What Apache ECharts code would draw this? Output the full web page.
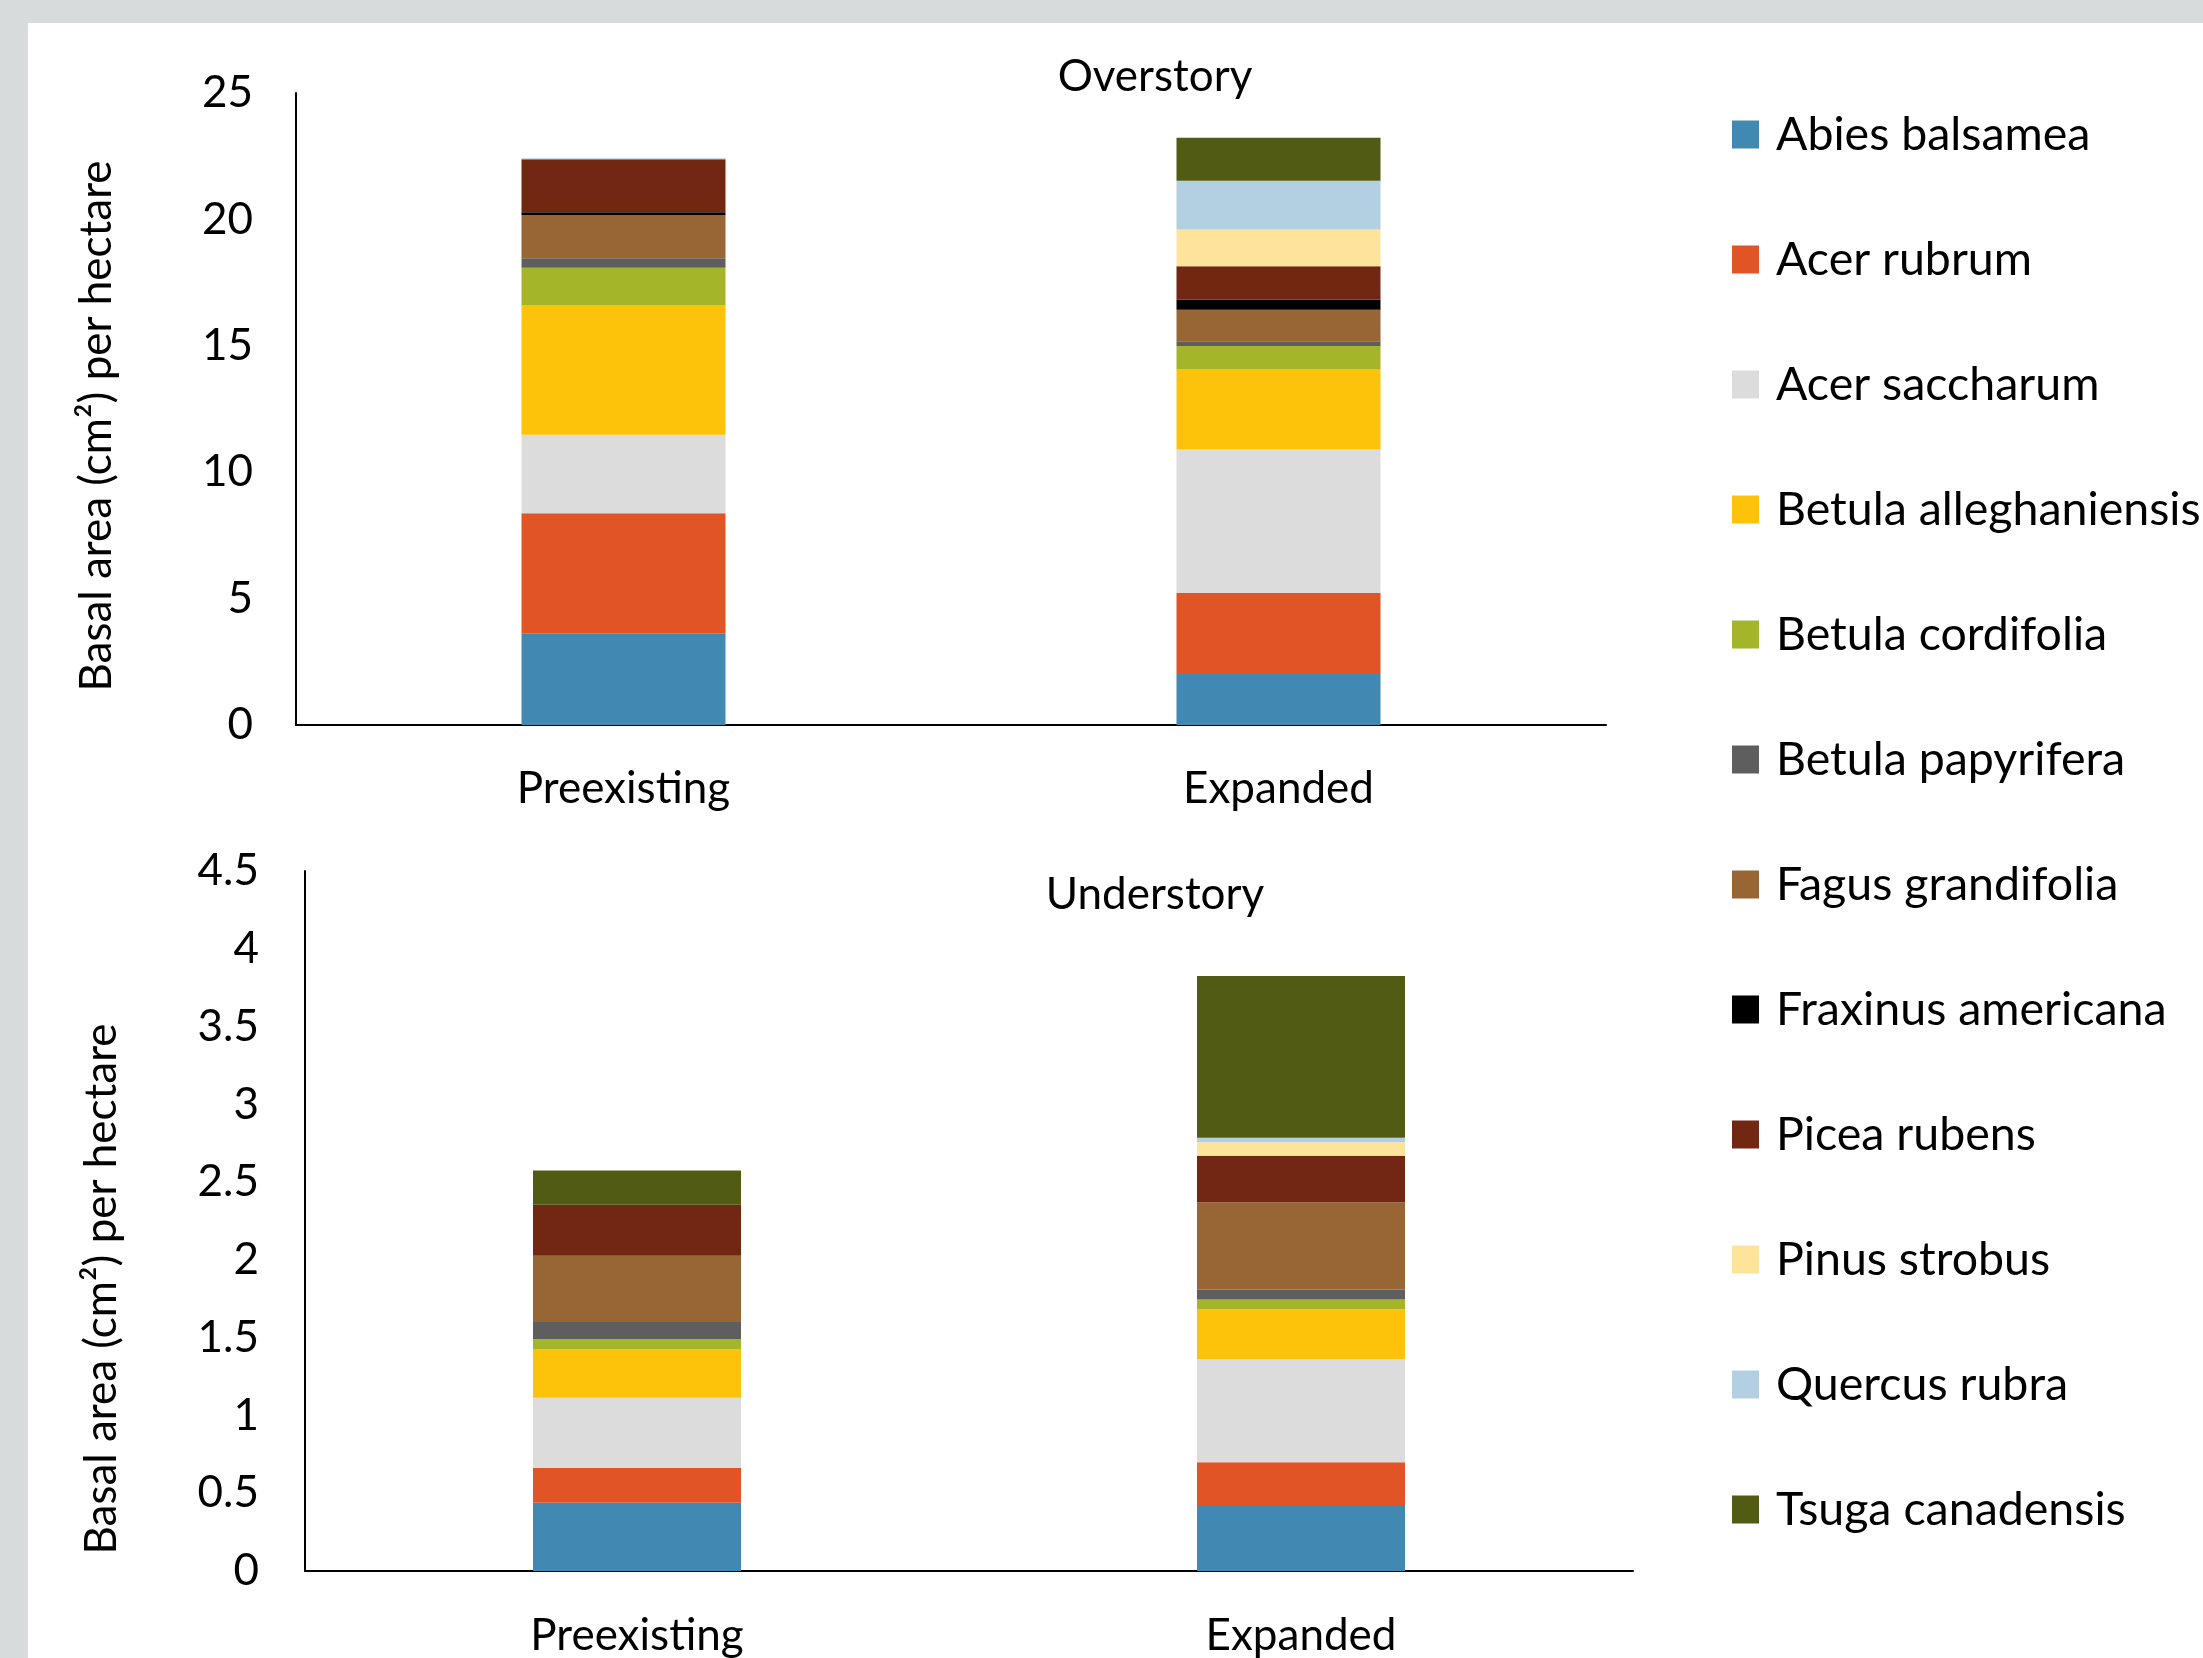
<!DOCTYPE html>
<html>
<head>
<meta charset="utf-8">
<title>Basal area per hectare - Overstory / Understory</title>
<script src="https://cdn.jsdelivr.net/npm/echarts@6/dist/echarts.min.js"></script>
<style>
html,body{margin:0;padding:0;width:2203px;height:1658px;overflow:hidden;background:#d8dbdc;}
#paper{position:absolute;left:28px;top:23px;right:0;bottom:0;background:#fff;}
#chart{position:absolute;left:0;top:0;width:2203px;height:1658px;}
</style>
</head>
<body>
<div id="paper"></div>
<div id="chart"></div>
<script>
// species, in stacking order (bottom -> top)
var species = ['Abies balsamea', 'Acer rubrum', 'Acer saccharum', 'Betula alleghaniensis',
	'Betula cordifolia', 'Betula papyrifera', 'Fagus grandifolia', 'Fraxinus americana',
	'Picea rubens', 'Pinus strobus', 'Quercus rubra', 'Tsuga canadensis'];
var stands = ['Preexisting', 'Expanded'];

// overstory basal area, one value per species
var overPre = [3.61, 4.77, 3.10, 5.11, 1.50, 0.37, 1.70, 0.12, 2.10, 0, 0.04, 0];
var overExp = [2.02, 3.21, 5.67, 3.16, 0.93, 0.19, 1.25, 0.40, 1.32, 1.45, 1.93, 1.70];
// understory basal area
var underPre = [0.438, 0.224, 0.451, 0.314, 0.064, 0.109, 0.427, 0, 0.327, 0, 0, 0.220];
var underExp = [0.424, 0.275, 0.662, 0.321, 0.064, 0.064, 0.560, 0, 0.300, 0.087, 0.028, 1.040];

var colors = ['#4189b3', '#e05426', '#dcdcdc', '#fdc20a', '#a5b52a', '#5e5e5e',
	'#986535', '#000000', '#722713', '#fee49a', '#b2d0e2', '#525b14'];

var FONT = 'Lato';
var yName = 'Basal area (cm\u00b2) per hectare';

function xAxisOf(idx, margin){
	return {
		type: 'category', gridIndex: idx, data: stands,
		axisLine: {lineStyle: {color: '#000', width: 2}},
		axisTick: {show: false},
		axisLabel: {color: '#000', fontFamily: FONT, fontSize: 44, margin: margin}
	};
}
function yAxisOf(idx, max, interval, margin, gap, pad){
	return {
		type: 'value', gridIndex: idx, min: 0, max: max, interval: interval,
		splitLine: {show: false},
		axisLine: {show: true, lineStyle: {color: '#000', width: 2}},
		axisTick: {show: false},
		axisLabel: {color: '#000', fontFamily: FONT, fontSize: 44, margin: margin},
		name: yName, nameLocation: 'middle', nameRotate: 90, nameGap: gap,
		nameTextStyle: {color: '#000', fontFamily: FONT, fontSize: 44, padding: [0, pad, 0, 0]}
	};
}

var series = [];
for (var i = 0; i < species.length; i++) {
	series.push({
		name: species[i], type: 'bar', stack: 'over', xAxisIndex: 0, yAxisIndex: 0,
		barWidth: 204, data: [overPre[i], overExp[i]],
		itemStyle: {color: colors[i]}
	});
	series.push({
		name: species[i], type: 'bar', stack: 'under', xAxisIndex: 1, yAxisIndex: 1,
		barWidth: 208, data: [underPre[i], underExp[i]],
		itemStyle: {color: colors[i]}
	});
}

var myChart = echarts.init(document.getElementById('chart'), null, {renderer: 'canvas'});
var option = {
	animation: false,
	backgroundColor: 'transparent',
	title: [
		{text: 'Overstory', left: 1155, top: 55, textAlign: 'center', padding: 0,
			textStyle: {color: '#000', fontFamily: FONT, fontSize: 44, fontWeight: 'normal'}},
		{text: 'Understory', left: 1155, top: 873, textAlign: 'center', padding: 0,
			textStyle: {color: '#000', fontFamily: FONT, fontSize: 44, fontWeight: 'normal'}}
	],
	legend: {
		data: species, orient: 'vertical', left: 1732, top: 111, padding: 0,
		itemWidth: 27, itemHeight: 28, itemGap: 78, icon: 'rect', selectedMode: false,
		textStyle: {color: '#000', fontFamily: FONT, fontSize: 46.5, lineHeight: 46, padding: [0, 0, 0, 12]}
	},
	grid: [
		{left: 296, top: 93, width: 1310, height: 632},
		{left: 305, top: 871, width: 1328, height: 700}
	],
	xAxis: [xAxisOf(0, 42), xAxisOf(1, 43)],
	yAxis: [yAxisOf(0, 25, 5, 43, 177, 34), yAxisOf(1, 4.5, 0.5, 46, 181, 136)],
	series: series
};
myChart.setOption(option);
</script>
</body>
</html>
